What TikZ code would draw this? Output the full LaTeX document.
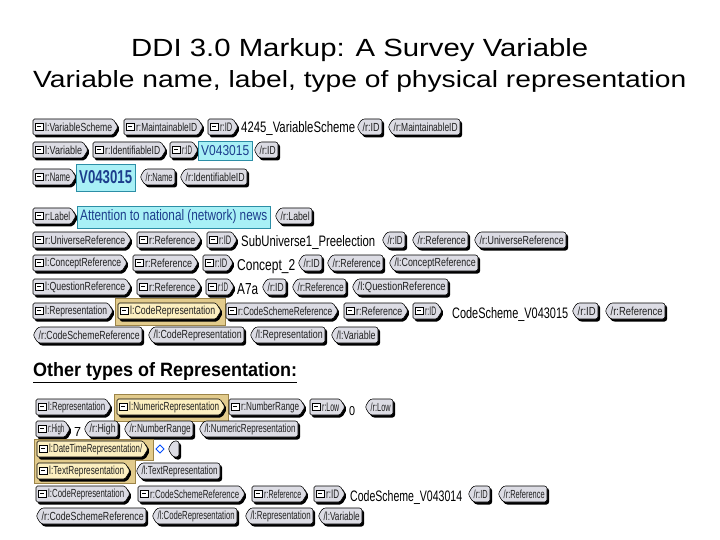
\documentclass[tikz,border=0pt]{standalone}
\usepackage{fontspec}
\setmainfont{Liberation Sans}
\setsansfont{Liberation Sans}
\usepackage{graphicx}
\definecolor{taggray}{HTML}{DCDCE4}
\definecolor{tagyellow}{HTML}{FCEFC0}
\definecolor{panelcol}{HTML}{E2CB8C}
\definecolor{paneledge}{HTML}{9C8448}
\definecolor{cyanfill}{HTML}{A8F0F6}
\definecolor{cyanedge}{HTML}{2C8EA6}
\definecolor{cyantext}{HTML}{1C3D8C}
\definecolor{tagtextcol}{HTML}{202020}
\newcounter{tagn}
\tikzset{
  tagline/.style={draw=black, line width=0.55pt},
  tagtext/.style={inner sep=0pt, text=tagtextcol, font=\sffamily},
  valtext/.style={inner sep=0pt, text=black, font=\sffamily},
}
% open tag: [fill]{x1}{x2}{y}{text}
\newcommand{\OT}[5][taggray]{%
  \stepcounter{tagn}%
  \fill[black, rounded corners=2pt] ({#2+2},{#4-6}) -- ({#3-3},{#4-6}) -- ({#3+2},{#4+2}) -- ({#3-3},{#4+10.5}) -- ({#2+2},{#4+10.5}) -- cycle;
  \filldraw[fill=#1, tagline, rounded corners=1.5pt] ({#2},{#4-8}) -- ({#3-5},{#4-8}) -- ({#3},{#4}) -- ({#3-5},{#4+8}) -- ({#2},{#4+8}) -- cycle;
  \draw[line width=0.5pt, fill=white] ({#2+2.5},{#4-4}) rectangle ({#2+10},{#4+3.5});
  \draw[line width=0.7pt] ({#2+4.3},{#4-0.25}) -- ({#2+8.2},{#4-0.25});
  \node[tagtext, anchor=west] (o\thetagn) at ({#2+12},{#4}) {\resizebox{\fpeval{#3-#2-18}pt}{8.5pt}{#5}};
}
% close tag: {x1}{x2}{y}{text}
\newcommand{\CT}[4]{%
  \stepcounter{tagn}%
  \fill[black, rounded corners=2.5pt] ({#1+2},{#3+2}) -- ({#1+7},{#3-6}) -- ({#2+2},{#3-6}) -- ({#2+2},{#3+10.5}) -- ({#1+7},{#3+10.5}) -- cycle;
  \filldraw[fill=taggray, tagline, rounded corners=2.5pt] ({#1},{#3}) -- ({#1+5},{#3-8}) -- ({#2},{#3-8}) -- ({#2},{#3+8}) -- ({#1+5},{#3+8}) -- cycle;
  \node[tagtext, anchor=west] (c\thetagn) at ({#1+5.5},{#3}) {\resizebox{\fpeval{#2-#1-8}pt}{8.5pt}{#4}};
}
% empty close tag
\newcommand{\CTE}[3]{%
  \fill[black, rounded corners=2.5pt] ({#1+2},{#3+2}) -- ({#1+7},{#3-6}) -- ({#2+2},{#3-6}) -- ({#2+2},{#3+10.5}) -- ({#1+7},{#3+10.5}) -- cycle;
  \filldraw[fill=taggray, tagline, rounded corners=2.5pt] ({#1},{#3}) -- ({#1+5},{#3-8}) -- ({#2},{#3-8}) -- ({#2},{#3+8}) -- ({#1+5},{#3+8}) -- cycle;
}
% plain value: {x1}{x2}{baseline y}{text}{height}
\newcommand{\Val}[5]{%
  \stepcounter{tagn}%
  \node[valtext, anchor=base west] (v\thetagn) at ({#1},{#3}) {\resizebox{\fpeval{#2-#1}pt}{#5pt}{#4}};
}
% cyan value box: {x1}{x2}{y1}{y2}{text}{height}
\newcommand{\Cy}[6]{%
  \stepcounter{tagn}%
  \filldraw[fill=cyanfill, draw=cyanedge, line width=0.6pt] ({#1},{#3}) rectangle ({#2},{#4});
  \node[valtext, text=cyantext, anchor=west] (y\thetagn) at ({#1+3},{(#3+#4)/2}) {\resizebox{\fpeval{#2-#1-6}pt}{#6pt}{#5}};
}
\begin{document}
\begin{tikzpicture}[x=1pt, y=-1pt]
\useasboundingbox (0,0) rectangle (720,540);
\fill[white] (0,0) rectangle (720,540);

% titles
\node[anchor=base west, inner sep=0] (title) at (131,57) {\resizebox{457pt}{18pt}{DDI 3.0 Markup: A Survey Variable}};
\node[anchor=base west, inner sep=0] (subtitle) at (33,88) {\resizebox{653pt}{17pt}{Variable name, label, type of physical representation}};
\node[anchor=base west, inner sep=0] (other) at (33,376) {\resizebox{264pt}{14pt}{\bfseries\underline{Other types of Representation:}}};

% Row 1
\OT{33}{118}{127}{l:VariableScheme}
\OT{124}{203}{127}{r:MaintainableID}
\OT{208}{238}{127}{r:ID}
\Val{241}{355}{133}{4245\_VariableScheme}{11}
\CT{357}{382}{127}{/r:ID}
\CT{388}{460}{127}{/r:MaintainableID}

% Row 2
\OT{33}{88}{150}{l:Variable}
\OT{93}{166}{150}{r:IdentifiableID}
\OT{170}{198}{150}{r:ID}
\Cy{198}{252}{141}{160}{V043015}{10}
\CT{254}{278}{150}{/r:ID}

% Row 3
\OT{33}{76}{177}{r:Name}
\Cy{76}{135}{164}{191}{\bfseries V043015}{13}
\CT{140}{175}{177}{/r:Name}
\CT{180}{247}{177}{/r:IdentifiableID}

% Row 4
\OT{33}{76}{216}{r:Label}
\Cy{77}{270}{206}{228}{Attention to national (network) news}{11}
\CT{275}{312}{216}{/r:Label}

% Row 5
\OT{33}{131}{240}{r:UniverseReference}
\OT{137}{201}{240}{r:Reference}
\OT{207}{237}{240}{r:ID}
\Val{241}{375}{246}{SubUniverse1\_Preelection}{11}
\CT{382}{405}{240}{/r:ID}
\CT{412}{468}{240}{/r:Reference}
\CT{474}{566}{240}{/r:UniverseReference}

% Row 6
\OT{33}{127}{263}{l:ConceptReference}
\OT{133}{198}{263}{r:Reference}
\OT{203}{233}{263}{r:ID}
\Val{237}{295}{270}{Concept\_2}{11}
\CT{298}{322}{263}{/r:ID}
\CT{327}{383}{263}{/r:Reference}
\CT{389}{478}{263}{/l:ConceptReference}

% Row 7
\OT{33}{131}{287}{l:QuestionReference}
\OT{137}{201}{287}{r:Reference}
\OT{206}{234}{287}{r:ID}
\Val{237}{258}{294}{A7a}{11}
\CT{262}{286}{287}{/r:ID}
\CT{292}{346}{287}{/r:Reference}
\CT{352}{448}{287}{/l:QuestionReference}

% Row 8
\OT{33}{113}{311}{l:Representation}
\filldraw[fill=panelcol, draw=paneledge, line width=0.6pt] (115,298) rectangle (225,325);
\OT[tagyellow]{118}{221}{311}{l:CodeRepresentation}
\OT{226}{338}{311}{r:CodeSchemeReference}
\OT{344}{408}{311}{r:Reference}
\OT{413}{442}{311}{r:ID}
\Val{452}{568}{318}{CodeScheme\_V043015}{11}
\CT{572}{598}{311}{/r:ID}
\CT{605}{665}{311}{/r:Reference}

% Row 9
\CT{33}{142}{335}{/r:CodeSchemeReference}
\CT{148}{244}{335}{/l:CodeRepresentation}
\CT{250}{325}{335}{/l:Representation}
\CT{331}{378}{335}{/l:Variable}

% Row 10
\OT{36}{111}{407}{l:Representation}
\filldraw[fill=panelcol, draw=paneledge, line width=0.6pt] (114,394) rectangle (228,421);
\OT[tagyellow]{117}{225}{407}{l:NumericRepresentation}
\OT{229}{305}{407}{r:NumberRange}
\OT{310}{345}{407}{r:Low}
\Val{349}{355}{415}{0}{9}
\CT{365}{393}{407}{/r:Low}

% Row 11
\OT{36}{70}{429}{r:High}
\Val{74}{81}{436}{7}{9}
\CT{84}{118}{429}{/r:High}
\CT{124}{193}{429}{/r:NumberRange}
\CT{199}{298}{429}{/l:NumericRepresentation}

% Rows 12-13
\filldraw[fill=panelcol, draw=paneledge, line width=0.6pt] (34,439) -- (153,439) -- (153,460) -- (135,460) -- (135,483) -- (34,483) -- cycle;
\OT[tagyellow]{37}{148}{449}{l:DateTimeRepresentation/}
\draw[draw=blue!70!cyan, line width=0.8pt] (156,449) -- (160,445) -- (164,449) -- (160,453) -- cycle;
\CTE{168}{179}{449}
\OT[tagyellow]{37}{130}{471}{l:TextRepresentation}
\CT{136}{220}{471}{/l:TextRepresentation}

% Row 14
\OT{36}{130}{494}{l:CodeRepresentation}
\OT{138}{245}{494}{r:CodeSchemeReference}
\OT{252}{307}{494}{r:Reference}
\OT{314}{345}{494}{r:ID}
\Val{350}{462}{501}{CodeScheme\_V043014}{11}
\CT{468}{490}{494}{/r:ID}
\CT{498}{547}{494}{/r:Reference}

% Row 15
\CT{36}{146}{516}{/r:CodeSchemeReference}
\CT{152}{237}{516}{/l:CodeRepresentation}
\CT{245}{313}{516}{/l:Representation}
\CT{318}{362}{516}{/l:Variable}
\end{tikzpicture}
\end{document}
